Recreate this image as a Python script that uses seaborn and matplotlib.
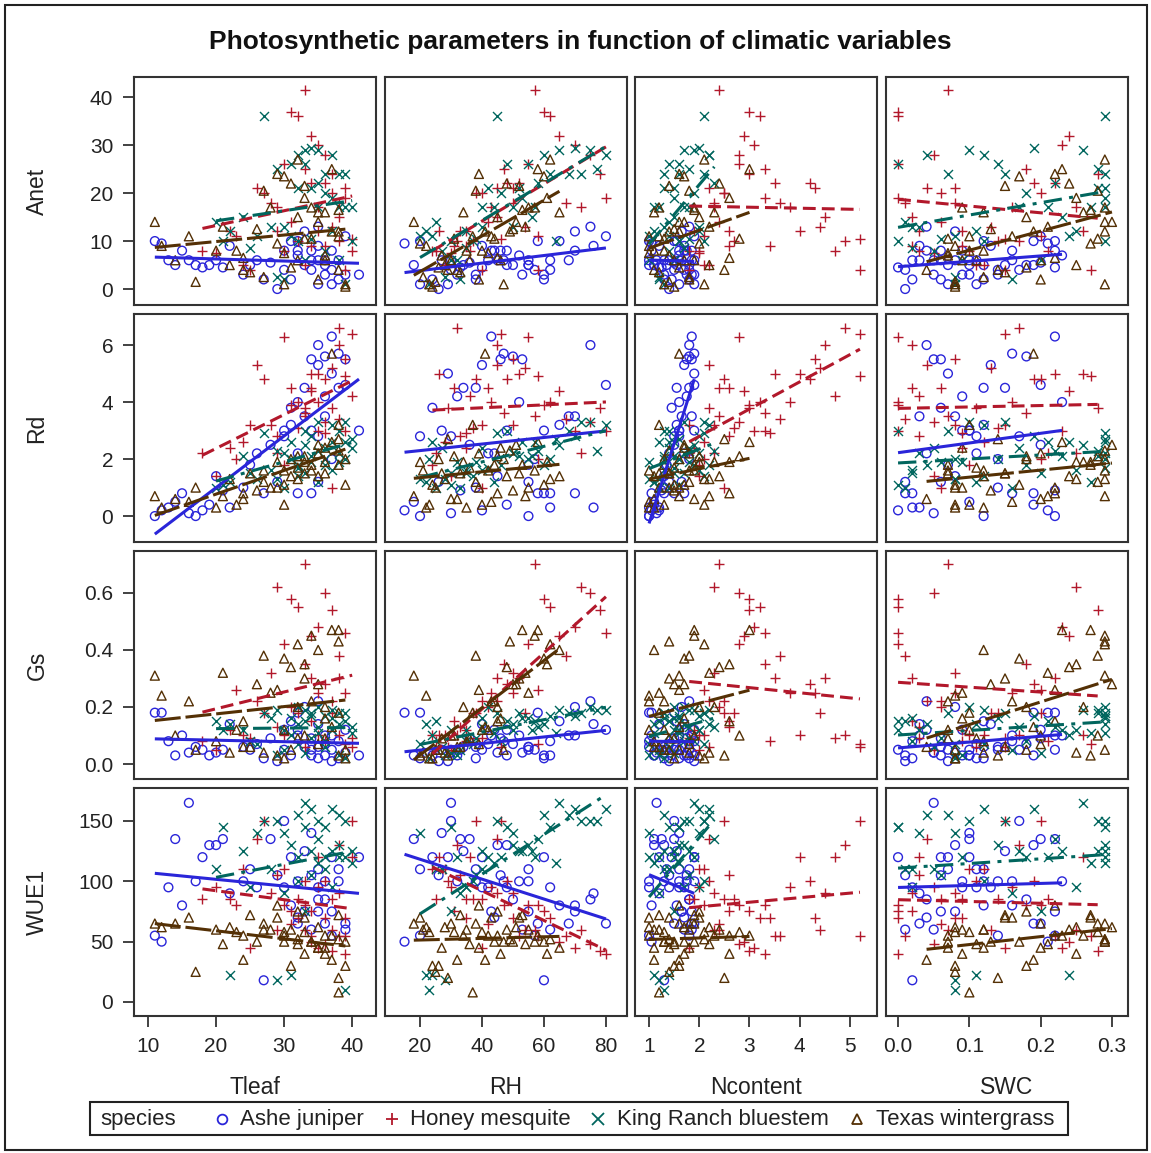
import matplotlib
matplotlib.use("Agg")
import matplotlib.pyplot as plt
import seaborn as sns
import pandas as pd
from matplotlib.lines import Line2D
from matplotlib.patches import Rectangle

# ---------------- data ----------------
species = ["Ashe juniper", "Honey mesquite", "King Ranch bluestem", "Texas wintergrass"]
x_vars = ["Tleaf", "RH", "Ncontent", "SWC"]
y_vars = ["Anet", "Rd", "Gs", "WUE1"]

# Ashe juniper
aj_tleaf = [11, 12, 13, 14, 15, 16, 17, 18, 19, 20, 21, 22, 24, 25, 26, 27, 28, 29, 30, 30, 31, 31, 32, 32, 32, 33, 33, 34, 34, 34, 35, 35, 35, 35, 36, 36, 36, 37, 37, 37, 38, 38, 39, 39, 41]
aj_rh = [20, 15, 62, 18, 70, 30, 55, 40, 48, 45, 33, 76, 38, 55, 42, 60, 36, 26, 48, 30, 65, 24, 52, 44, 58, 70, 34, 46, 27, 62, 75, 40, 55, 20, 50, 32, 68, 43, 57, 29, 47, 38, 80, 53, 60]
aj_ncontent = [1.0, 1.05, 1.0, 1.1, 1.05, 1.15, 1.0, 1.2, 1.1, 1.3, 1.25, 1.2, 1.3, 1.35, 1.4, 1.3, 1.5, 1.4, 1.6, 1.5, 1.55, 1.45, 1.6, 1.7, 1.5, 1.65, 1.55, 1.75, 1.6, 1.7, 1.8, 1.7, 1.65, 1.6, 1.8, 1.75, 1.85, 1.85, 1.8, 1.9, 1.9, 1.8, 1.9, 1.85, 1.9]
aj_swc = [0.22, 0.21, 0.02, 0.10, 0.16, 0.05, 0.12, 0.00, 0.19, 0.08, 0.22, 0.03, 0.14, 0.07, 0.11, 0.02, 0.20, 0.01, 0.09, 0.17, 0.12, 0.06, 0.23, 0.04, 0.19, 0.08, 0.15, 0.06, 0.10, 0.01, 0.04, 0.13, 0.06, 0.11, 0.18, 0.09, 0.03, 0.22, 0.14, 0.07, 0.16, 0.12, 0.20, 0.05, 0.10]
aj_anet = [10, 9.5, 6, 5, 8, 6, 5, 4.5, 5, 6, 4.5, 9, 3, 5, 6, 2, 5.5, 0, 8, 4, 10, 2, 7, 8, 10, 12, 5, 8, 6, 4, 13, 9, 6, 1, 5, 3, 6, 8, 4, 1, 6, 2, 11, 3, 3]
aj_rd = [0.0, 0.2, 0.3, 0.5, 0.8, 0.1, 0.0, 0.2, 0.4, 1.4, 0.9, 0.3, 1.0, 1.8, 2.2, 0.8, 2.5, 1.2, 3.0, 2.8, 3.2, 3.8, 4.0, 2.2, 0.8, 3.5, 4.5, 5.5, 3.0, 0.8, 6.0, 5.3, 1.2, 2.8, 5.6, 4.2, 3.5, 6.3, 2.0, 5.0, 5.7, 4.5, 4.6, 5.5, 3.0]
aj_gs = [0.18, 0.18, 0.08, 0.03, 0.10, 0.04, 0.06, 0.05, 0.03, 0.04, 0.05, 0.14, 0.06, 0.05, 0.07, 0.02, 0.09, 0.01, 0.12, 0.05, 0.15, 0.03, 0.10, 0.12, 0.18, 0.20, 0.06, 0.09, 0.05, 0.03, 0.22, 0.14, 0.06, 0.02, 0.07, 0.03, 0.10, 0.10, 0.05, 0.01, 0.08, 0.02, 0.12, 0.04, 0.03]
aj_wue1 = [55, 50, 95, 135, 80, 165, 100, 120, 130, 130, 135, 90, 100, 110, 95, 18, 135, 105, 95, 150, 80, 120, 100, 70, 65, 75, 125, 105, 140, 60, 85, 95, 75, 110, 85, 100, 65, 75, 55, 120, 100, 110, 65, 60, 120]

# Honey mesquite
hm_tleaf = [18, 20, 22, 24, 25, 26, 27, 28, 29, 30, 30, 31, 31, 32, 32, 33, 33, 33, 34, 34, 34, 35, 35, 35, 36, 36, 36, 37, 37, 37, 38, 38, 38, 39, 39, 39, 40, 40, 29, 23]
hm_rh = [25, 30, 35, 28, 40, 45, 38, 50, 33, 55, 24, 60, 42, 62, 37, 57, 47, 29, 65, 52, 31, 70, 43, 26, 75, 48, 35, 78, 54, 40, 45, 67, 32, 58, 50, 80, 46, 36, 72, 58]
hm_ncontent = [1.8, 2.0, 1.9, 2.1, 1.8, 2.2, 2.5, 2.3, 2.6, 2.8, 2.0, 3.0, 2.4, 3.2, 2.7, 2.4, 3.3, 2.2, 2.9, 3.5, 2.6, 3.1, 3.8, 4.0, 2.8, 4.2, 3.4, 3.0, 4.4, 2.5, 4.5, 3.6, 4.9, 5.2, 4.3, 3.3, 5.2, 4.7, 2.3, 2.1]
hm_swc = [0.21, 0.05, 0.09, 0.12, 0.15, 0.04, 0.20, 0.08, 0.03, 0.00, 0.10, 0.00, 0.06, 0.00, 0.14, 0.07, 0.18, 0.11, 0.24, 0.22, 0.02, 0.23, 0.16, 0.26, 0.05, 0.19, 0.09, 0.28, 0.13, 0.06, 0.02, 0.01, 0.17, 0.27, 0.08, 0.00, 0.15, 0.03, 0.25, 0.20]
hm_anet = [8, 7.5, 12, 5, 4, 21, 20, 18, 12, 26, 8, 37, 14, 36, 10, 41.5, 25, 5, 32, 22, 9, 30, 17, 12, 28, 22, 9, 24, 13, 20, 15, 18, 10, 4, 21, 19, 10.5, 8, 17, 11]
hm_rd = [2.2, 1.4, 2.4, 2.6, 3.2, 5.3, 4.8, 3.2, 2.8, 6.3, 1.8, 3.9, 4.5, 4.0, 3.1, 3.5, 3.6, 3.8, 4.4, 5.0, 4.5, 3.0, 4.0, 5.0, 3.3, 4.8, 2.9, 3.8, 5.2, 1.0, 6.0, 3.4, 6.6, 4.9, 5.5, 3.0, 6.4, 4.2, 2.2, 2.0]
hm_gs = [0.08, 0.05, 0.12, 0.10, 0.09, 0.22, 0.18, 0.32, 0.13, 0.42, 0.10, 0.58, 0.20, 0.55, 0.18, 0.70, 0.35, 0.06, 0.45, 0.30, 0.15, 0.48, 0.25, 0.10, 0.60, 0.28, 0.08, 0.54, 0.18, 0.22, 0.30, 0.38, 0.10, 0.07, 0.25, 0.46, 0.06, 0.09, 0.62, 0.26]
hm_wue1 = [85, 95, 85, 110, 45, 135, 150, 90, 105, 80, 110, 75, 65, 70, 85, 60, 80, 100, 50, 55, 75, 45, 95, 120, 48, 100, 70, 42, 60, 85, 90, 55, 130, 55, 70, 40, 150, 120, 60, 80]

# King Ranch bluestem
kr_tleaf = [20, 21, 22, 25, 27, 28, 29, 30, 30, 31, 31, 32, 32, 32, 33, 33, 33, 34, 34, 34, 35, 35, 35, 36, 36, 36, 37, 37, 37, 38, 38, 38, 39, 39, 39, 40, 40, 24, 29, 26]
kr_rh = [25, 30, 22, 35, 45, 40, 28, 50, 33, 55, 24, 60, 42, 37, 65, 48, 30, 70, 52, 38, 75, 58, 44, 62, 46, 27, 80, 53, 35, 68, 50, 32, 72, 57, 23, 64, 40, 56, 77, 20]
kr_ncontent = [1.4, 1.6, 1.1, 1.7, 2.1, 1.3, 1.2, 2.0, 1.2, 1.6, 1.4, 2.2, 1.5, 2.1, 1.9, 1.4, 1.5, 2.0, 1.3, 1.8, 1.7, 2.3, 1.1, 1.6, 1.9, 1.4, 2.2, 1.5, 2.0, 1.3, 1.7, 1.0, 2.1, 1.2, 1.3, 1.6, 1.8, 1.5, 1.8, 1.0]
kr_swc = [0.01, 0.00, 0.11, 0.02, 0.29, 0.02, 0.08, 0.03, 0.16, 0.14, 0.24, 0.04, 0.29, 0.12, 0.26, 0.00, 0.20, 0.19, 0.28, 0.06, 0.10, 0.22, 0.27, 0.29, 0.18, 0.05, 0.12, 0.29, 0.25, 0.07, 0.29, 0.09, 0.15, 0.21, 0.08, 0.29, 0.17, 0.23, 0.28, 0.08]
kr_anet = [14, 10, 12, 8.5, 36, 13, 2.5, 13, 2, 26, 11, 28, 21, 10, 29, 26, 6, 29.5, 21, 10.5, 29, 22, 17, 24, 20, 8, 28, 19, 12, 24, 17, 6, 24, 17, 1, 10, 17, 15, 25, 11]
kr_rd = [1.0, 1.1, 1.2, 1.5, 2.9, 1.6, 1.3, 2.2, 1.0, 2.0, 2.6, 1.8, 1.7, 1.4, 2.5, 3.0, 1.5, 2.8, 2.1, 1.9, 3.3, 2.3, 1.2, 2.0, 1.8, 2.4, 3.2, 2.6, 1.6, 3.0, 2.2, 1.9, 3.3, 2.6, 2.0, 2.7, 2.4, 2.1, 2.3, 1.3]
kr_gs = [0.15, 0.12, 0.14, 0.08, 0.18, 0.16, 0.03, 0.12, 0.05, 0.16, 0.10, 0.14, 0.20, 0.07, 0.19, 0.15, 0.04, 0.17, 0.18, 0.09, 0.20, 0.13, 0.11, 0.17, 0.08, 0.06, 0.19, 0.16, 0.12, 0.18, 0.14, 0.03, 0.18, 0.15, 0.02, 0.11, 0.13, 0.12, 0.19, 0.07]
kr_wue1 = [110, 145, 22, 95, 150, 110, 18, 140, 90, 130, 22, 155, 120, 100, 165, 145, 75, 160, 125, 105, 150, 135, 115, 145, 120, 110, 160, 125, 95, 155, 130, 120, 150, 120, 10, 115, 125, 125, 150, 140]

# Texas wintergrass
tw_tleaf = [11, 12, 14, 17, 20, 22, 23, 24, 25, 26, 27, 28, 29, 30, 30, 31, 31, 32, 32, 33, 33, 34, 34, 35, 35, 36, 36, 37, 37, 38, 38, 38, 38, 39, 39, 21, 16, 27, 33, 36, 29, 32, 24, 35, 30]
tw_rh = [18, 22, 30, 25, 35, 28, 40, 45, 33, 50, 38, 55, 20, 60, 42, 48, 26, 62, 36, 52, 31, 44, 57, 39, 65, 46, 34, 58, 41, 49, 29, 53, 37, 24, 47, 54, 43, 21, 61, 27, 39, 45, 32, 51, 23]
tw_ncontent = [1.6, 1.0, 1.9, 1.4, 1.1, 2.2, 1.3, 2.6, 1.2, 1.5, 1.8, 1.2, 2.0, 1.7, 1.0, 2.4, 1.6, 2.1, 1.5, 1.4, 2.8, 1.3, 1.9, 1.8, 1.1, 1.7, 2.3, 3.0, 1.6, 1.4, 2.5, 1.9, 1.2, 1.5, 1.3, 2.2, 1.0, 1.8, 2.6, 1.4, 1.6, 2.0, 1.1, 1.7, 2.1]
tw_swc = [0.29, 0.08, 0.20, 0.08, 0.12, 0.25, 0.10, 0.22, 0.15, 0.13, 0.28, 0.09, 0.27, 0.17, 0.07, 0.24, 0.18, 0.29, 0.11, 0.15, 0.28, 0.07, 0.29, 0.20, 0.12, 0.09, 0.26, 0.23, 0.19, 0.29, 0.14, 0.27, 0.10, 0.08, 0.29, 0.21, 0.16, 0.12, 0.25, 0.07, 0.22, 0.18, 0.04, 0.30, 0.08]
tw_anet = [14, 9, 6, 1.5, 8, 5, 8, 6.5, 3.5, 12.5, 20.5, 17, 9.5, 23.5, 7.5, 22, 4.5, 27, 6, 21.5, 10.5, 10.5, 17, 2, 16, 6, 16, 25, 12, 12, 4, 16.5, 11, 0.5, 1, 13, 11, 2.5, 19, 7, 24, 15, 4, 14, 1]
tw_rd = [0.7, 0.3, 0.6, 1.0, 0.3, 1.3, 0.4, 0.8, 1.5, 0.9, 1.2, 1.0, 1.9, 1.1, 1.6, 1.4, 2.0, 1.3, 1.7, 1.5, 2.1, 1.8, 1.6, 2.2, 1.4, 2.4, 1.9, 2.6, 5.7, 2.3, 2.7, 1.8, 3.2, 1.1, 2.0, 0.7, 0.5, 1.6, 1.9, 1.5, 1.0, 2.1, 0.6, 2.5, 0.4]
tw_gs = [0.31, 0.24, 0.10, 0.05, 0.08, 0.04, 0.12, 0.15, 0.06, 0.28, 0.38, 0.25, 0.03, 0.37, 0.12, 0.34, 0.05, 0.42, 0.09, 0.30, 0.10, 0.22, 0.45, 0.07, 0.40, 0.16, 0.20, 0.47, 0.13, 0.43, 0.03, 0.47, 0.18, 0.02, 0.05, 0.32, 0.22, 0.04, 0.35, 0.09, 0.26, 0.20, 0.06, 0.28, 0.02]
tw_wue1 = [65, 62, 65, 25, 60, 62, 58, 55, 72, 50, 65, 60, 70, 50, 55, 60, 30, 52, 48, 70, 58, 50, 50, 45, 45, 40, 55, 55, 35, 52, 20, 72, 8, 30, 50, 48, 70, 60, 40, 45, 80, 75, 35, 62, 58]

x_ticks = {"Tleaf": [10, 20, 30, 40], "RH": [20, 40, 60, 80],
           "Ncontent": [1, 2, 3, 4, 5], "SWC": [0.0, 0.1, 0.2, 0.3]}
x_ticklabels = {"Tleaf": ["10", "20", "30", "40"], "RH": ["20", "40", "60", "80"],
                "Ncontent": ["1", "2", "3", "4", "5"], "SWC": ["0.0", "0.1", "0.2", "0.3"]}
y_ticks = {"Anet": [0, 10, 20, 30, 40], "Rd": [0, 2, 4, 6],
           "Gs": [0.0, 0.2, 0.4, 0.6], "WUE1": [0, 50, 100, 150]}
y_ticklabels = {"Anet": ["0", "10", "20", "30", "40"], "Rd": ["0", "2", "4", "6"],
                "Gs": ["0.0", "0.2", "0.4", "0.6"], "WUE1": ["0", "50", "100", "150"]}

# ---------------- build table ----------------
def frame(name, t, rh, n, swc, a, rd, gs, w):
    return pd.DataFrame({"species": name, "Tleaf": t, "RH": rh, "Ncontent": n, "SWC": swc,
                         "Anet": a, "Rd": rd, "Gs": gs, "WUE1": w})

df = pd.concat([
    frame(species[0], aj_tleaf, aj_rh, aj_ncontent, aj_swc, aj_anet, aj_rd, aj_gs, aj_wue1),
    frame(species[1], hm_tleaf, hm_rh, hm_ncontent, hm_swc, hm_anet, hm_rd, hm_gs, hm_wue1),
    frame(species[2], kr_tleaf, kr_rh, kr_ncontent, kr_swc, kr_anet, kr_rd, kr_gs, kr_wue1),
    frame(species[3], tw_tleaf, tw_rh, tw_ncontent, tw_swc, tw_anet, tw_rd, tw_gs, tw_wue1),
], ignore_index=True)

# ---------------- style ----------------
sns.set_theme(style="white")
plt.rcParams["font.family"] = ["Liberation Sans", "DejaVu Sans"]
TXT = "#222222"

colors = {species[0]: "#2A25D9", species[1]: "#B2182B", species[2]: "#01665E", species[3]: "#543005"}
markers = {species[0]: "o", species[1]: "+", species[2]: "x", species[3]: "^"}
msize = {species[0]: 40, species[1]: 60, species[2]: 42, species[3]: 42}
LW = 2.2
dashes = {species[0]: "-", species[1]: (0, (4.2, 2.0)),
          species[2]: (0, (6.0, 2.4, 1.3, 2.4)), species[3]: (0, (8.5, 1.6))}

xlims = {"Tleaf": (7.94, 43.5), "RH": (8.7, 86.8), "Ncontent": (0.72, 5.54), "SWC": (-0.0169, 0.3225)}
ylims = {"Anet": (-3.33, 44.2), "Rd": (-0.91, 7.09), "Gs": (-0.0526, 0.747), "WUE1": (-11.6, 177.3)}

W, H = 1151, 1153
fig = plt.figure(figsize=(W / 100, H / 100), dpi=100)

col_left = [134, 385, 635, 886]
row_top = [77, 314, 551, 788]
pw, ph = 242, 228

for i, yv in enumerate(y_vars):
    for j, xv in enumerate(x_vars):
        ax = fig.add_axes([col_left[j] / W, 1 - (row_top[i] + ph) / H, pw / W, ph / H])
        for sp in species:
            d = df[df["species"] == sp]
            c = colors[sp]
            sk = dict(s=msize[sp], alpha=1, zorder=2, linewidths=1.0)
            if markers[sp] in ("o", "^"):
                sk.update(facecolors="none", edgecolors=c)
            sns.regplot(data=d, x=xv, y=yv, ax=ax, ci=None, color=c, truncate=True,
                        marker=markers[sp], scatter_kws=sk,
                        line_kws=dict(lw=LW, linestyle=dashes[sp], zorder=3,
                                      solid_capstyle="butt", dash_capstyle="butt"))
        ax.set_xlim(*xlims[xv])
        ax.set_ylim(*ylims[yv])
        ax.set_xlabel("")
        ax.set_ylabel("")
        ax.set_xticks(x_ticks[xv])
        ax.set_xticklabels(x_ticklabels[xv])
        ax.set_yticks(y_ticks[yv])
        ax.set_yticklabels(y_ticklabels[yv])
        ax.tick_params(axis="both", direction="out", length=8, width=1.2, colors=TXT,
                       labelsize=15, pad=7)
        ax.tick_params(axis="x", bottom=(i == 3), labelbottom=(i == 3))
        ax.tick_params(axis="y", left=(j == 0), labelleft=(j == 0))
        for s in ax.spines.values():
            s.set_color("#333333")
            s.set_linewidth(1.5)
        ax.set_facecolor("white")

# axis titles
col_center = [(c + pw / 2) / W for c in col_left]
for j, xv in enumerate(x_vars):
    fig.text(col_center[j], 1 - 1088 / H, xv, ha="center", va="center", fontsize=16.5, color=TXT)
for i, yv in enumerate(y_vars):
    fig.text(37 / W, 1 - (row_top[i] + ph / 2) / H, yv, ha="center", va="center",
             rotation=90, fontsize=16.5, color=TXT)

fig.text(580 / W, 1 - 42 / H, "Photosynthetic parameters in function of climatic variables",
         ha="center", va="center", fontsize=19, fontweight="bold", color="#111111")

# legend (manual layout of legend entries)
leg_y = 1 - 1119 / H
fig.text(100 / W, leg_y, "species", ha="left", va="center", fontsize=16, color=TXT)
leg_marker_x = [222, 392, 598, 857]
leg_text_x = [240, 410, 617, 876]
for k, sp in enumerate(species):
    c = colors[sp]
    if markers[sp] in ("o", "^"):
        h = Line2D([leg_marker_x[k] / W], [leg_y], transform=fig.transFigure, linestyle="none",
                   marker=markers[sp], markersize=7, markerfacecolor="none",
                   markeredgecolor=c, markeredgewidth=1.3)
    else:
        h = Line2D([leg_marker_x[k] / W], [leg_y], transform=fig.transFigure, linestyle="none",
                   marker=markers[sp], markersize=8, color=c, markeredgewidth=1.3)
    fig.add_artist(h)
    fig.text(leg_text_x[k] / W, leg_y, sp, ha="left", va="center", fontsize=16, color=TXT)
fig.patches.append(Rectangle((90 / W, 1 - 1135 / H), (1068 - 90) / W, 33 / H,
                             transform=fig.transFigure, fill=False, edgecolor="#222222", lw=1.5))
# outer frame
fig.patches.append(Rectangle((5 / W, 1 - 1150 / H), (1147 - 5) / W, (1150 - 5) / H,
                             transform=fig.transFigure, fill=False, edgecolor="#222222", lw=1.5))

fig.savefig("out.png", dpi=100, facecolor="white")
